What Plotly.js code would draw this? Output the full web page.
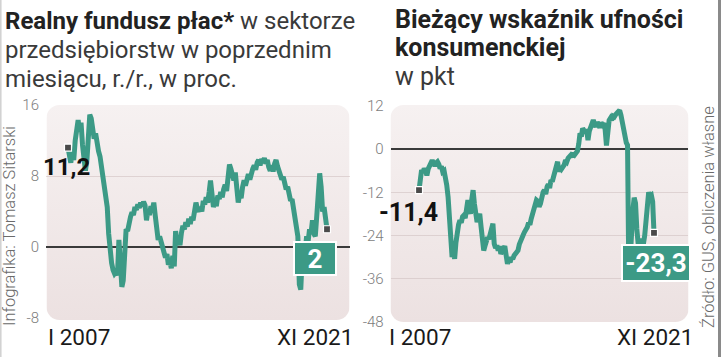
<!DOCTYPE html>
<html>
<head>
<meta charset="utf-8">
<script src="https://cdn.plot.ly/plotly-3.0.1.min.js"></script>
<style>
html,body{margin:0;padding:0;background:#fff;}
#chart{width:721px;height:357px;}
</style>
</head>
<body>
<div id="chart"></div>
<script>
// ---- data (monthly, I 2007 .. XI 2021) ----
const startYear = 2007;
const wageFund = [
 11.2,10.2,9.5,10.8,9.8,12.0,13.8,14.3,13.0,14.0,11.5,9.5,
 8.6,9.8,13.5,14.9,14.5,13.0,12.2,12.8,11.5,10.8,10.2,9.0,
 8.2,7.0,5.8,4.5,1.5,-1.2,-1.8,-2.6,-3.0,-2.8,-3.2,0.8,
 -3.0,-4.5,-3.8,0.6,2.0,1.8,3.0,3.4,3.9,3.6,4.5,4.2,
 4.8,4.4,5.0,4.6,5.1,4.7,3.0,4.2,3.6,4.6,4.2,5.0,
 3.5,1.8,0.8,1.2,0.3,0.0,-0.6,-1.2,-0.8,-2.0,-1.6,-2.4,
 -1.0,-2.2,1.8,0.4,1.2,0.2,1.6,2.4,2.0,2.8,2.3,3.2,
 2.6,3.4,3.0,4.2,5.0,4.3,4.0,4.5,4.0,5.2,4.8,5.6,
 5.0,6.2,7.5,6.0,4.5,5.2,4.6,5.8,5.4,6.2,5.6,6.5,
 7.0,6.3,8.0,9.3,8.8,8.2,7.5,8.4,6.8,5.0,6.0,5.5,
 6.8,7.5,6.9,7.8,8.2,7.6,8.6,8.8,9.2,8.7,9.5,9.8,
 9.2,9.9,9.6,10.0,9.4,9.8,9.0,8.6,9.2,8.5,9.4,9.8,
 9.1,8.4,8.0,7.6,7.9,7.0,6.5,6.8,6.0,5.2,5.4,4.5,
 3.5,2.5,1.2,-4.2,-4.8,-1.0,0.2,-0.4,1.2,0.6,2.0,1.5,
 3.0,1.5,1.2,3.5,7.6,8.3,6.8,4.0,4.5,2.8,2.0
];
const confidence = [
 -11.4,-8.6,-5.8,-6.5,-5.4,-6.0,-7.3,-5.5,-4.5,-3.5,-3.1,-4.0,
 -4.6,-3.8,-3.5,-4.2,-5.4,-4.8,-6.3,-6.0,-7.7,-10.0,-13.3,-18.0,
 -22.6,-30.0,-28.5,-30.5,-26.0,-22.6,-21.0,-19.8,-20.5,-18.8,-18.4,-19.2,
 -17.0,-14.2,-16.5,-18.0,-14.0,-11.4,-15.2,-17.0,-20.3,-19.0,-18.0,-21.5,
 -24.0,-28.2,-27.0,-25.4,-24.5,-25.0,-23.5,-22.0,-20.7,-26.3,-27.5,-26.8,
 -28.2,-27.0,-29.1,-28.5,-27.2,-27.0,-29.5,-31.9,-30.8,-31.5,-30.0,-30.6,
 -29.6,-29.0,-28.6,-28.2,-26.5,-25.4,-24.0,-23.8,-23.0,-22.5,-21.7,-20.5,
 -21.0,-19.3,-18.0,-17.0,-15.5,-14.2,-14.5,-16.0,-15.2,-13.0,-12.0,-11.4,
 -12.5,-10.5,-9.8,-10.8,-8.6,-9.0,-7.7,-6.5,-5.0,-3.5,-6.3,-4.9,
 -5.5,-4.9,-4.4,-3.1,-3.5,-2.5,-2.0,-1.7,-2.2,-1.0,-1.5,-0.7,
 -0.5,1.5,4.4,3.5,5.8,5.2,4.4,5.5,2.5,5.0,5.8,6.5,
 8.1,6.8,6.2,7.5,7.0,6.0,7.4,6.8,7.2,5.5,1.0,7.0,
 8.0,8.6,8.0,9.2,9.0,9.6,10.0,10.4,10.8,9.5,7.0,4.5,
 2.5,1.8,1.1,-36.5,-30.7,-21.6,-17.0,-13.5,-15.0,-22.2,-26.3,-25.0,
 -26.0,-25.0,-26.4,-24.0,-18.6,-13.2,-12.0,-13.1,-12.8,-14.6,-23.3
];
const leftTicks = [-8, 0, 8, 16];
const rightTicks = [-48, -36, -24, -12, 0, 12];
const firstLabelL = '11,2', lastLabelL = '2';
const firstLabelR = '-11,4', lastLabelR = '-23,3';
const xStartLabel = 'I 2007', xEndLabel = 'XI 2021';

const months = wageFund.map((_, i) => {
  const y = startYear + Math.floor(i / 12), m = (i % 12) + 1;
  return y + '-' + String(m).padStart(2, '0') + '-01';
});
const n = months.length;

// ---- style ----
const W = 721, H = 357;
const teal = '#3c9a86';
const px = x => x / W, py = y => 1 - y / H;
const cond = 'Roboto, sans-serif';
const light = 'Roboto, sans-serif';
const LT = '<span style="color:#3a3a3a">';

function bgImage(w, h) {
  const svg = "<svg xmlns='http://www.w3.org/2000/svg' width='" + w + "' height='" + h + "'>" +
    "<defs><linearGradient id='g' x1='0' y1='0' x2='0' y2='1'>" +
    "<stop offset='0' stop-color='#f6f1f1'/><stop offset='1' stop-color='#ece1e1'/></linearGradient></defs>" +
    "<rect width='" + w + "' height='" + h + "' rx='13' ry='13' fill='url(#g)'/></svg>";
  return 'data:image/svg+xml;charset=utf-8,' + encodeURIComponent(svg);
}

const lineTrace = (y, xa, ya) => ({
  x: months, y: y, xaxis: xa, yaxis: ya, type: 'scatter', mode: 'lines',
  line: {color: teal, width: 5, shape: 'linear'}, hoverinfo: 'skip'
});
const endMarkers = (y, xa, ya) => ({
  x: [months[0], months[n - 1]], y: [y[0], y[n - 1]], xaxis: xa, yaxis: ya,
  type: 'scatter', mode: 'markers',
  marker: {symbol: 'square', size: 7, color: '#4a4a4a', line: {color: '#fff', width: 1.2}},
  hoverinfo: 'skip'
});

const data = [
  lineTrace(wageFund, 'x', 'y'), endMarkers(wageFund, 'x', 'y'),
  lineTrace(confidence, 'x2', 'y2'), endMarkers(confidence, 'x2', 'y2')
];

const axisY = (range, ticks) => ({
  range: range, tickvals: ticks, ticktext: ticks.map(String),
  showgrid: true, gridcolor: 'rgba(205,190,190,0.55)', gridwidth: 1,
  zeroline: true, zerolinecolor: '#3a3a3a', zerolinewidth: 1.5,
  showline: false, ticks: '', fixedrange: true, ticklabelstandoff: 6,
  tickfont: {family: light, size: 15, color: '#7d7d7d', weight: 300}
});

const layout = {
  width: W, height: H, margin: {l: 0, r: 0, t: 0, b: 0},
  paper_bgcolor: '#ffffff', plot_bgcolor: 'rgba(0,0,0,0)', showlegend: false,
  xaxis: {domain: [px(46), px(350)], range: ['2005-09-28', '2023-02-25'], type: 'date',
          showgrid: false, zeroline: false, showticklabels: false, ticks: ''},
  yaxis: Object.assign(axisY([-8, 16], leftTicks), {domain: [py(318), py(105)]}),
  xaxis2: {domain: [px(390.7), px(688.3)], range: ['2005-03-19', '2024-01-01'], type: 'date',
           anchor: 'y2', showgrid: false, zeroline: false, showticklabels: false, ticks: ''},
  yaxis2: Object.assign(axisY([-48, 12], rightTicks), {domain: [py(321.7), py(106)], anchor: 'x2'}),
  images: [
    {source: bgImage(303, 215), xref: 'paper', yref: 'paper', x: px(46.5), y: py(105),
     sizex: 303 / W, sizey: 215 / H, xanchor: 'left', yanchor: 'top', sizing: 'stretch', layer: 'below'},
    {source: bgImage(298, 217), xref: 'paper', yref: 'paper', x: px(390.5), y: py(105),
     sizex: 298 / W, sizey: 217 / H, xanchor: 'left', yanchor: 'top', sizing: 'stretch', layer: 'below'}
  ],
  shapes: [
    {type: 'line', xref: 'paper', yref: 'paper', x0: px(0.8), x1: px(0.8), y0: 0, y1: 1,
     line: {color: '#d0d0d0', width: 1.5}},
    {type: 'line', xref: 'paper', yref: 'paper', x0: px(719.5), x1: px(719.5), y0: 0, y1: 1,
     line: {color: '#8a8a8a', width: 3}}
  ],
  annotations: []
};

const A = layout.annotations;
function txt(text, x, y, opts) {
  A.push(Object.assign({text: text, xref: 'paper', yref: 'paper', x: px(x), y: py(y),
    showarrow: false, xanchor: 'left', yanchor: 'middle',
    font: {family: cond, size: 24, color: '#222'}}, opts || {}));
}
// titles
txt('<b>Realny fundusz płac*</b> ' + LT + 'w sektorze</span>', 3, 21);
txt(LT + 'przedsiębiorstw w poprzednim</span>', 3, 50);
txt(LT + 'miesiącu, r./r., w proc.</span>', 3, 79);
const tb = {family: cond, size: 25, color: '#222'};
txt('<b>Bieżący wskaźnik ufności</b>', 393, 19, {font: tb});
txt('<b>konsumenckiej</b>', 393, 48, {font: tb});
txt(LT + 'w pkt</span>', 393, 76, {font: tb});
// x labels
const xl = {family: cond, size: 22.5, color: '#1a1a1a'};
txt(xStartLabel, 46, 337, {font: xl});
txt(xEndLabel, 355, 337, {xanchor: 'right', font: xl});
txt(xStartLabel, 387, 337, {font: xl});
txt(xEndLabel, 695, 337, {xanchor: 'right', font: xl});
// side credits
txt('Infografika: Tomasz Sitarski', 9, 226, {xanchor: 'center', textangle: -90,
  font: {family: light, size: 16.5, color: '#6a6a6a', weight: 300}});
txt('Źródło: GUS, obliczenia własne', 709, 217, {xanchor: 'center', textangle: -90,
  font: {family: light, size: 16.5, color: '#6a6a6a', weight: 300}});
// value labels
A.push({text: '<b>' + firstLabelL + '</b>', x: months[0], y: wageFund[0], xref: 'x', yref: 'y',
  showarrow: false, xanchor: 'center', yanchor: 'middle', xshift: -1, yshift: -19,
  font: {family: cond, size: 24, color: '#111'}});
A.push({text: '<b>' + firstLabelR + '</b>', x: months[0], y: confidence[0], xref: 'x2', yref: 'y2',
  showarrow: false, xanchor: 'center', yanchor: 'middle', xshift: -11, yshift: -22,
  font: {family: cond, size: 25, color: '#111'}});
A.push({text: '<b>' + lastLabelL + '</b>', x: months[n - 1], y: wageFund[n - 1], xref: 'x', yref: 'y',
  showarrow: false, xanchor: 'center', yanchor: 'middle', xshift: -12, yshift: -29,
  bgcolor: teal, bordercolor: '#ffffff', borderwidth: 2, borderpad: 1, width: 38, height: 29,
  font: {family: cond, size: 26, color: '#fff'}});
A.push({text: '<b>' + lastLabelR + '</b>', x: months[n - 1], y: confidence[n - 1], xref: 'x2', yref: 'y2',
  showarrow: false, xanchor: 'center', yanchor: 'middle', xshift: 2, yshift: -30,
  bgcolor: teal, bordercolor: '#ffffff', borderwidth: 2, borderpad: 1, width: 64, height: 32,
  font: {family: cond, size: 26, color: '#fff'}});

Plotly.newPlot('chart', data, layout, {staticPlot: true, displayModeBar: false});
</script>
</body>
</html>
